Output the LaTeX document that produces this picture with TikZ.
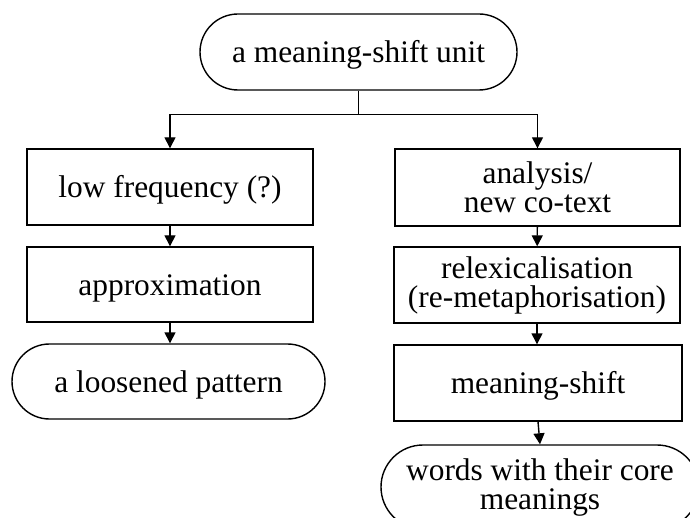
\documentclass[tikz,border=0pt]{standalone}
\usepackage{fontspec}
\setmainfont{Liberation Serif}
\usetikzlibrary{shapes.misc,arrows.meta}
\begin{document}
\begin{tikzpicture}[x=1pt,y=1pt,
  label font/.style={font=\fontsize{31.4}{29}\selectfont},
  oneline/.style={text height=24pt, text depth=3pt},
  stepbox/.style={draw, line width=1.4pt, rectangle, align=center, inner sep=0pt, label font},
  terminal/.style={draw, line width=1.4pt, rounded rectangle, align=center, inner sep=0pt, label font},
  flow/.style={line width=1.4pt, -{Triangle[length=11pt,width=11pt]}},
  trunk/.style={line width=1.4pt}]
\useasboundingbox (0,0) rectangle (690,-518);
\clip (0,0) rectangle (690,-518);

% start
\node[terminal, oneline, minimum width=317pt, minimum height=76pt] (unit) at (358.5,-52) {a meaning-shift unit};

% left branch
\node[stepbox, oneline, minimum width=286pt, minimum height=76pt] (lowfreq) at (170,-187) {low frequency (?)};
\node[stepbox, oneline, minimum width=286pt, minimum height=75pt] (approx) at (170,-284.5) {approximation};
\node[terminal, oneline, minimum width=313pt, minimum height=75pt] (loose) at (168.5,-381.5) {a loosened pattern};

% right branch
\node[stepbox, minimum width=285pt, minimum height=77pt] (analysis) at (537.5,-187.5) {analysis/\\new co-text};
\node[stepbox, minimum width=286pt, minimum height=76pt] (relex) at (537,-285) {relexicalisation\\(re-metaphorisation)};
\node[stepbox, oneline, minimum width=288pt, minimum height=76pt] (shift) at (538,-383) {meaning-shift};
\node[terminal, minimum width=318pt, minimum height=84pt] (core) at (540,-487) {words with their core\\meanings};

% connectors
\draw[trunk] (unit.south) -- ++(0,-24) coordinate (split);
\draw[flow] (split) -| (lowfreq.north);
\draw[flow] (split) -| (analysis.north);
\draw[flow] (lowfreq) -- (approx);
\draw[flow] (approx) -- (approx.south |- loose.north);
\draw[flow] (analysis) -- (relex);
\draw[flow] (relex) -- (relex.south |- shift.north);
\draw[flow] (shift.south) -- (core.north);
\end{tikzpicture}
\end{document}
